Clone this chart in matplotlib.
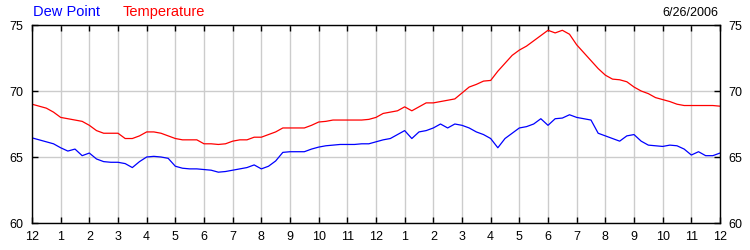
import numpy as np
import matplotlib.pyplot as plt

plt.rcParams['font.family'] = ['Liberation Sans', 'DejaVu Sans']

# readings every 15 minutes, midnight to midnight
temperature = [
    69.0, 68.85, 68.7, 68.4, 68.0, 67.9, 67.8, 67.7,
    67.4, 67.0, 66.8, 66.8, 66.8, 66.4, 66.4, 66.6,
    66.9, 66.9, 66.8, 66.6, 66.4, 66.3, 66.3, 66.3,
    66.0, 66.0, 65.95, 66.0, 66.2, 66.3, 66.3, 66.5,
    66.5, 66.7, 66.9, 67.2, 67.2, 67.2, 67.2, 67.4,
    67.65, 67.7, 67.8, 67.8, 67.8, 67.8, 67.8, 67.85,
    68.0, 68.3, 68.4, 68.5, 68.8, 68.5, 68.8, 69.1,
    69.1, 69.2, 69.3, 69.4, 69.85, 70.3, 70.5, 70.75,
    70.8, 71.5, 72.1, 72.7, 73.1, 73.4, 73.8, 74.2,
    74.6, 74.4, 74.6, 74.3, 73.5, 72.9, 72.3, 71.7,
    71.2, 70.9, 70.85, 70.7, 70.3, 70.0, 69.8, 69.5,
    69.35, 69.2, 69.0, 68.9, 68.9, 68.9, 68.9, 68.9,
    68.85,
]
dew_point = [
    66.45, 66.3, 66.15, 66.0, 65.7, 65.45, 65.6, 65.1,
    65.3, 64.85, 64.65, 64.6, 64.6, 64.5, 64.2, 64.65,
    65.0, 65.05, 65.0, 64.9, 64.3, 64.15, 64.1, 64.1,
    64.05, 64.0, 63.85, 63.9, 64.0, 64.1, 64.2, 64.4,
    64.1, 64.3, 64.7, 65.35, 65.4, 65.4, 65.4, 65.6,
    65.75, 65.85, 65.9, 65.95, 65.95, 65.95, 66.0, 66.0,
    66.15, 66.3, 66.4, 66.7, 67.0, 66.4, 66.9, 67.0,
    67.2, 67.5, 67.2, 67.5, 67.4, 67.2, 66.9, 66.7,
    66.4, 65.7, 66.4, 66.8, 67.2, 67.3, 67.5, 67.9,
    67.4, 67.9, 67.95, 68.2, 68.0, 67.9, 67.8, 66.8,
    66.6, 66.4, 66.2, 66.6, 66.7, 66.2, 65.9, 65.85,
    65.8, 65.9, 65.85, 65.6, 65.15, 65.4, 65.1, 65.1,
    65.3,
]
hour_labels = ['12'] + [str(i) for i in range(1, 12)] + ['12'] + [str(i) for i in range(1, 12)] + ['12']
y_ticks = [60, 65, 70, 75]
date_text = '6/26/2006'

hours = np.arange(len(temperature)) * 0.25

fig = plt.figure(figsize=(7.5, 2.5), dpi=100)
ax = fig.add_axes([32 / 750, 1 - 223 / 250, 688 / 750, 198 / 250])

ax.plot(hours, dew_point, color='#0000ff', lw=0.9)
ax.plot(hours, temperature, color='#ff0000', lw=0.9)

ax.set_xlim(0, 24)
ax.set_ylim(60, 75)
ax.set_xticks(range(25))
ax.set_xticklabels(hour_labels)
ax.set_yticks(y_ticks)
ax.grid(True, color='#cccccc', lw=1)
ax.set_axisbelow(True)

ax.tick_params(axis='both', direction='in', length=4, width=1, colors='black',
               labelsize=9, top=True, right=True, labelright=True)
ax.tick_params(axis='x', pad=6)
ax.tick_params(axis='y', pad=6)
for s in ax.spines.values():
    s.set_linewidth(1)
    s.set_color('black')

fig.text(33 / 750, 1 - 12 / 250, 'Dew Point', color='#0000ff', fontsize=10.5, va='center')
fig.text(123 / 750, 1 - 12 / 250, 'Temperature', color='#ff0000', fontsize=10.5, va='center')
fig.text(718 / 750, 1 - 13 / 250, date_text, color='black', fontsize=9, va='center', ha='right')

plt.savefig('out.png', dpi=100)
